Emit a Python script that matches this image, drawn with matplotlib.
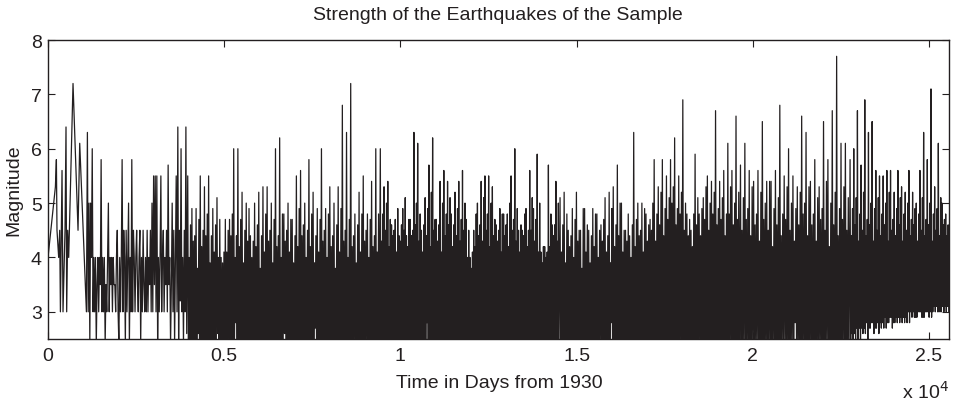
import numpy as np
import matplotlib
matplotlib.use("Agg")
import matplotlib.pyplot as plt
from matplotlib.ticker import FixedLocator, FuncFormatter

plt.rcParams['font.family'] = ['Liberation Sans', 'DejaVu Sans']

# first, sparse events: day and magnitude
early_day = [0, 210, 238, 255, 303, 332, 352, 380, 398, 426, 465, 483,
             511, 530, 559, 587, 607, 710, 852, 900, 1090]
early_mag = [4.0, 5.3, 5.8, 4.5, 4.0, 4.5, 3.0, 4.5, 5.6, 3.0, 4.0, 4.5,
             6.4, 3.0, 4.5, 4.0, 4.5, 7.2, 4.5, 6.1, 3.0]

# later events in blocks (first day, last day), magnitudes in tenths,
# events taken as evenly spread inside a block
block_days = [(1118, 3936), (3965, 9400), (9430, 14500),
              (14530, 19620), (19650, 22730), (22760, 25560)]

mag_1930s = [63, 30, 50, 24, 50, 40, 60, 30, 40, 30, 40, 24, 35, 40, 30, 40, 35, 58, 30, 40,
             30, 40, 24, 35, 30, 40, 50, 30, 40, 35, 40, 30, 40, 35, 35, 30, 40, 45, 30, 24,
             40, 30, 40, 58, 30, 45, 40, 24, 45, 30, 40, 50, 24, 40, 30, 58, 30, 45, 40, 30,
             40, 45, 35, 30, 40, 45, 24, 40, 30, 45, 35, 30, 40, 30, 45, 30, 40, 35, 45, 30,
             50, 30, 55, 35, 55, 30, 55, 24, 40, 30, 40, 55, 30, 40, 45, 30, 40, 35, 45, 30,
             57, 35, 40, 24, 35, 50, 30, 45, 24, 40, 55, 30, 64, 24, 45, 32, 60, 30, 40, 24,
             45, 30, 64, 26]

mag_1940s = [55, 22, 40, 23, 46, 21, 49, 24, 43, 22, 44, 23, 49, 21, 38, 26, 47, 22,
             55, 23, 42, 22, 45, 24, 53, 22, 44, 21, 48, 23, 55, 24, 39, 22, 44, 21,
             49, 22, 41, 23, 46, 24, 51, 26, 40, 21, 47, 22, 40, 22, 39, 23, 41, 21,
             47, 23, 41, 22, 45, 24, 47, 21, 44, 23, 48, 22, 60, 22, 40, 28, 44, 23,
             60, 23, 42, 21, 47, 22, 52, 22, 39, 24, 45, 23, 50, 24, 43, 22, 49, 21,
             44, 21, 40, 23, 43, 22, 50, 23, 42, 22, 46, 24, 52, 22, 38, 21, 44, 23,
             53, 24, 41, 23, 48, 22, 53, 21, 43, 22, 45, 23, 50, 22, 39, 24, 47, 21,
             60, 23, 42, 22, 44, 23, 62, 22, 40, 21, 48, 24, 48, 26, 43, 23, 45, 22,
             50, 22, 41, 22, 47, 21, 47, 24, 39, 23, 44, 23, 55, 21, 42, 22, 49, 24,
             56, 23, 44, 21, 46, 22, 50, 22, 40, 24, 45, 23, 58, 24, 42, 22, 48, 21,
             52, 22, 39, 27, 44, 23, 49, 21, 41, 22, 47, 24, 60, 23, 43, 21, 45, 22,
             49, 22, 40, 23, 48, 21, 53, 24, 42, 22, 44, 23, 50, 21, 38, 24, 46, 22,
             53, 23, 41, 22, 49, 21, 68, 22, 43, 23, 45, 24, 63, 24, 40, 21, 47, 22,
             72, 22, 42, 23, 44, 23, 48, 23, 39, 22, 46, 21, 52, 21, 41, 24, 48, 22,
             55, 22, 43, 23, 45, 24, 48, 24, 40, 21, 47, 22, 54, 22, 42, 23, 44, 23,
             60, 23, 41, 22, 48, 21]

mag_1960s = [60, 22, 43, 23, 48, 21, 53, 24, 45, 22, 50, 23, 54, 21, 42, 23, 47, 22,
             46, 23, 44, 22, 45, 24, 47, 22, 41, 21, 49, 22, 44, 24, 43, 23, 46, 21,
             49, 22, 45, 22, 51, 23, 44, 21, 42, 24, 47, 22, 47, 23, 44, 22, 45, 21,
             63, 22, 46, 23, 50, 24, 61, 24, 43, 21, 48, 22, 45, 21, 41, 22, 46, 23,
             51, 23, 44, 28, 49, 22, 57, 22, 42, 23, 52, 21, 62, 24, 45, 21, 47, 23,
             47, 22, 43, 23, 46, 22, 54, 21, 41, 22, 50, 24, 56, 23, 44, 21, 48, 22,
             54, 22, 46, 23, 51, 21, 48, 24, 42, 22, 46, 23, 52, 22, 44, 21, 49, 22,
             54, 23, 43, 24, 47, 21, 56, 21, 45, 22, 50, 23, 47, 22, 40, 23, 45, 22,
             40, 23, 38, 22, 41, 24, 45, 22, 42, 21, 48, 22, 50, 24, 44, 23, 46, 21,
             54, 21, 43, 22, 51, 23, 55, 23, 45, 24, 48, 22, 55, 22, 42, 21, 50, 21,
             53, 24, 44, 23, 47, 23, 46, 21, 43, 22, 45, 22, 49, 23, 41, 24, 48, 21,
             48, 22, 44, 21, 46, 23, 48, 24, 42, 23, 50, 22, 55, 21, 45, 22, 47, 24,
             60, 23, 43, 21, 49, 22, 45, 22, 41, 23, 46, 23, 45, 23, 44, 22, 48, 21,
             49, 22, 42, 24, 45, 22, 56, 21, 45, 22, 51, 23, 49, 24, 43, 21, 47, 22,
             59, 22, 41, 23, 50, 24, 41, 23, 39, 22, 42, 21, 42, 21, 40, 24, 41, 22,
             57, 23, 42, 22, 48, 23, 46, 22, 44, 23, 46, 21, 54, 24, 43, 22, 50, 22]

mag_1970s = [51, 22, 41, 23, 46, 21, 52, 24, 39, 22, 48, 23, 45, 21, 42, 23, 44, 22,
             49, 23, 40, 22, 47, 24, 52, 22, 43, 21, 45, 22, 45, 24, 38, 23, 49, 21,
             49, 22, 41, 22, 46, 23, 45, 21, 39, 24, 44, 22, 49, 23, 42, 22, 48, 21,
             48, 22, 40, 23, 45, 24, 46, 24, 43, 21, 47, 22, 51, 21, 41, 22, 44, 23,
             52, 23, 39, 28, 49, 22, 53, 22, 42, 23, 46, 21, 57, 24, 44, 21, 50, 23,
             50, 22, 41, 23, 45, 22, 45, 21, 43, 22, 48, 24, 44, 23, 40, 21, 46, 22,
             63, 22, 42, 23, 47, 21, 50, 24, 44, 22, 45, 23, 50, 22, 41, 21, 49, 22,
             48, 23, 43, 24, 46, 21, 47, 21, 45, 22, 50, 23, 58, 22, 43, 23, 48, 22,
             53, 24, 46, 22, 52, 21, 58, 22, 44, 21, 49, 23, 55, 21, 47, 23, 51, 22,
             58, 23, 50, 22, 53, 24, 62, 22, 46, 21, 49, 22, 55, 24, 48, 23, 52, 21,
             69, 22, 45, 22, 50, 23, 48, 21, 44, 24, 47, 22, 45, 23, 42, 22, 48, 21,
             59, 22, 46, 21, 51, 23, 48, 24, 44, 23, 49, 22, 51, 22, 47, 22, 53, 21,
             55, 23, 45, 21, 50, 23, 54, 21, 48, 23, 52, 22, 67, 22, 46, 24, 49, 21,
             54, 24, 47, 22, 51, 23, 56, 22, 44, 21, 48, 22, 61, 23, 48, 23, 53, 24,
             56, 21, 46, 22, 50, 22, 66, 22, 47, 23, 52, 21]

mag_1980s = [57, 22, 45, 23, 51, 21, 61, 24, 47, 22, 49, 23, 56, 21, 44, 23, 53, 22,
             54, 23, 46, 22, 48, 24, 56, 22, 43, 21, 52, 22, 65, 24, 47, 23, 50, 21,
             54, 22, 45, 22, 54, 23, 54, 21, 42, 24, 49, 22, 56, 23, 46, 22, 51, 21,
             68, 22, 44, 23, 48, 24, 55, 24, 47, 21, 53, 22, 60, 21, 45, 22, 50, 23,
             55, 23, 43, 28, 49, 22, 53, 22, 46, 23, 52, 21, 66, 24, 48, 21, 50, 23,
             63, 22, 44, 23, 53, 22, 54, 21, 46, 22, 48, 24, 58, 23, 43, 21, 51, 22,
             53, 22, 47, 23, 49, 21, 65, 24, 45, 22, 54, 23, 58, 22, 42, 21, 50, 22,
             67, 23, 46, 24, 52, 21, 77, 21, 44, 22, 49, 23, 61, 22, 47, 23, 53, 22,
             61, 24, 45, 22, 51, 21]

mag_1990s = [58, 24, 44, 26, 49, 23, 60, 26, 46, 24, 51, 27, 67, 25, 43, 27, 48, 24,
             57, 27, 45, 26, 52, 27, 69, 26, 44, 28, 47, 25, 63, 27, 46, 27, 50, 28,
             65, 28, 43, 26, 49, 27, 56, 27, 45, 28, 51, 26, 55, 28, 44, 27, 48, 28,
             55, 27, 46, 29, 50, 27, 56, 28, 43, 28, 52, 29, 56, 29, 45, 27, 47, 28,
             52, 28, 44, 29, 49, 28, 56, 29, 46, 28, 51, 29, 53, 28, 43, 29, 48, 28,
             52, 29, 45, 28, 50, 30, 56, 28, 44, 30, 47, 29, 52, 30, 46, 29, 49, 29,
             50, 29, 43, 30, 48, 30, 56, 30, 45, 29, 51, 29, 63, 29, 44, 30, 47, 30,
             58, 30, 46, 29, 50, 30, 71, 29, 43, 30, 48, 31, 53, 30, 45, 31, 49, 30,
             61, 30, 44, 30, 51, 30, 50, 31, 46, 30, 47, 31, 48, 30, 44, 31, 46, 30]

blocks = [mag_1930s, mag_1940s, mag_1960s, mag_1970s, mag_1980s, mag_1990s]

days = list(early_day)
mags = list(early_mag)
for (d0, d1), m in zip(block_days, blocks):
    days += list(np.linspace(d0, d1, len(m)))
    mags += [v / 10 for v in m]

ink = '#231f20'
fig = plt.figure(figsize=(9.58, 4.02), dpi=100)
ax = fig.add_axes([48 / 958, 62 / 402, 901 / 958, 299 / 402])
ax.plot(days, mags, color=ink, lw=0.9)

ax.set_xlim(0, 25567)
ax.set_ylim(2.5, 8)
ax.xaxis.set_major_locator(FixedLocator([0, 5000, 10000, 15000, 20000, 25000]))
ax.xaxis.set_major_formatter(FuncFormatter(lambda v, p: '%g' % (v / 1e4)))
ax.set_yticks([3, 4, 5, 6, 7, 8])
ax.tick_params(direction='in', top=True, right=True, length=5, width=0.8,
               labelsize=14, colors=ink)
ax.tick_params(axis='x', pad=6)
ax.tick_params(axis='y', pad=4.5)
for s in ax.spines.values():
    s.set_color(ink)
    s.set_linewidth(1.0)

fig.text(498 / 958, 1 - 16 / 402, 'Strength of the Earthquakes of the Sample',
         ha='center', va='center', fontsize=14, color=ink)
fig.text(499 / 958, 1 - 384 / 402, 'Time in Days from 1930',
         ha='center', va='center', fontsize=14, color=ink)
fig.text(14 / 958, 1 - 190 / 402, 'Magnitude', rotation=90,
         ha='center', va='center', fontsize=14, color=ink)
fig.text(925 / 958, 1 - 399 / 402, r'x 10$^4$', ha='center', va='baseline',
         fontsize=14, color=ink)

fig.savefig('out.png', dpi=100)
